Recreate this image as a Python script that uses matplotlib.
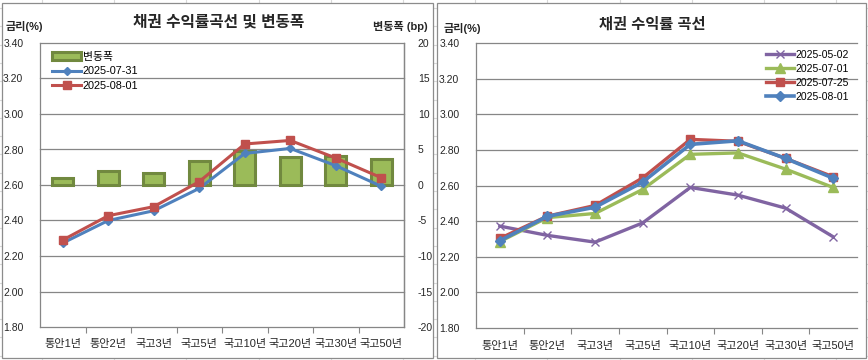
import matplotlib
matplotlib.use("Agg")
import matplotlib.pyplot as plt
from matplotlib.patches import Rectangle, Patch
from matplotlib.lines import Line2D
import numpy as np

plt.rcParams['font.family'] = ['Liberation Sans', 'Noto Sans CJK KR', 'DejaVu Sans']

# ---------------- data ----------------
categories = ['통안1년', '통안2년', '국고3년', '국고5년', '국고10년', '국고20년', '국고30년', '국고50년']

left_title = '채권 수익률곡선 및 변동폭'
right_title = '채권 수익률 곡선'

left_0731 = [2.273, 2.400, 2.455, 2.581, 2.778, 2.806, 2.709, 2.593]
left_0801 = [2.290, 2.427, 2.478, 2.619, 2.831, 2.851, 2.752, 2.641]
change_bp = [1.0, 2.0, 1.7, 3.4, 4.8, 3.9, 4.1, 3.7]

right_0502 = [2.372, 2.320, 2.282, 2.390, 2.589, 2.546, 2.473, 2.312]
right_0701 = [2.285, 2.420, 2.443, 2.578, 2.775, 2.783, 2.692, 2.589]
right_0725 = [2.303, 2.428, 2.488, 2.643, 2.859, 2.848, 2.752, 2.649]
right_0801 = [2.290, 2.427, 2.478, 2.619, 2.831, 2.851, 2.752, 2.641]

rate_ticks = [1.80, 2.00, 2.20, 2.40, 2.60, 2.80, 3.00, 3.20, 3.40]
bp_ticks = [-20, -15, -10, -5, 0, 5, 10, 15, 20]

# ---------------- styles ----------------
W, H = 868, 360
BLUE = '#4F81BD'
RED = '#C0504D'
GREEN = '#9BBB59'
GREEN_EDGE = '#71893F'
PURPLE = '#8064A2'
GRID = '#868686'
TXT = '#262626'

fig = plt.figure(figsize=(W / 100, H / 100), dpi=100)

# spreadsheet background grid
bg = fig.add_axes([0, 0, 1, 1], zorder=-10)
bg.set_xlim(0, W)
bg.set_ylim(H, 0)
bg.axis('off')
for xv in np.arange(42, W, 72.2):
    bg.axvline(xv, color='#d9d9d9', lw=0.8)
for yv in np.arange(8, H, 18.3):
    bg.axhline(yv, color='#d9d9d9', lw=0.8)
# chart boxes
for (x0, x1) in [(1.5, 432.5), (436.5, 866)]:
    bg.add_patch(Rectangle((x0, 2.5), x1 - x0, 355.5, facecolor='white',
                           edgecolor='#8c8c8c', lw=0.9, zorder=2))


def fx(px):
    return px / W


def fy(py):
    return 1 - py / H


x = np.arange(len(categories))


def style_axis(ax, right_spine):
    ax.set_xlim(-0.5, len(categories) - 0.5)
    ax.set_ylim(1.8, 3.4)
    ax.set_yticks(rate_ticks)
    ax.set_yticklabels([f'{v:.2f}' for v in rate_ticks])
    ax.set_xticks(x)
    ax.set_xticklabels(categories)
    ax.set_xticks(np.arange(0.5, len(categories) - 0.5, 1.0), minor=True)
    ax.tick_params(axis='x', which='major', length=0, pad=9, labelsize=8, colors=TXT)
    ax.tick_params(axis='x', which='minor', length=4, width=0.8, color=GRID, direction='out')
    ax.tick_params(axis='y', length=0, pad=12, labelsize=7.5, colors=TXT)
    for s in ['top', 'right']:
        ax.spines[s].set_visible(False)
    for s in ['left', 'bottom']:
        ax.spines[s].set_color(GRID)
        ax.spines[s].set_linewidth(0.9)
    if right_spine:
        ax.spines['right'].set_visible(True)
        ax.spines['right'].set_color(GRID)
        ax.spines['right'].set_linewidth(0.9)
    ax.patch.set_visible(False)


# ---------------- left chart ----------------
axL = fig.add_axes([fx(40), fy(327), fx(404) - fx(40), fy(43) - fy(327)], zorder=5)
axB = axL.twinx()
axB.set_zorder(4)
style_axis(axL, True)
axB.set_ylim(-20, 20)
axB.set_yticks(bp_ticks)
axB.set_yticklabels([str(v) for v in bp_ticks])
axB.tick_params(axis='y', length=0, pad=10, labelsize=7.5, colors=TXT)
for s in ['top', 'left', 'bottom']:
    axB.spines[s].set_visible(False)
axB.spines['right'].set_color(GRID)
axB.spines['right'].set_linewidth(0.9)
for v in bp_ticks[1:]:
    axB.axhline(v, color=GRID, lw=0.9, zorder=0, clip_on=False)
axB.bar(x, change_bp, width=0.46, color=GREEN, edgecolor=GREEN_EDGE, linewidth=2.2, zorder=2)

axL.plot(x, left_0731, color=BLUE, lw=2.2, marker='D', ms=3.8, zorder=3)
axL.plot(x, left_0801, color=RED, lw=2.2, marker='s', ms=5.5, zorder=4)

hL = [Patch(facecolor=GREEN, edgecolor=GREEN_EDGE, lw=2.2),
      Line2D([], [], color=BLUE, lw=2.2, marker='D', ms=3.8),
      Line2D([], [], color=RED, lw=2.2, marker='s', ms=5.5)]
axL.legend(hL, ['변동폭', '2025-07-31', '2025-08-01'], loc='upper left',
           bbox_to_anchor=(fx(52), fy(52)), bbox_transform=fig.transFigure,
           frameon=False, fontsize=7.8, handlelength=2.7, handleheight=0.7,
           handletextpad=0.15, labelspacing=0.4, borderpad=0, borderaxespad=0)

fig.text(fx(218.5), fy(22), left_title, ha='center', va='center', fontsize=11.3,
         fontweight='bold', color=TXT)
fig.text(fx(6), fy(27), '금리(%)', ha='left', va='center', fontsize=8,
         fontweight='bold', color=TXT)
fig.text(fx(428), fy(27), '변동폭 (bp)', ha='right', va='center', fontsize=8,
         fontweight='bold', color=TXT)

# ---------------- right chart ----------------
axR = fig.add_axes([fx(476), fy(328), fx(857) - fx(476), fy(43) - fy(328)], zorder=5)
style_axis(axR, False)
for v in rate_ticks[1:]:
    axR.axhline(v, color=GRID, lw=0.9, zorder=0, clip_on=False)
axR.plot(x, right_0502, color=PURPLE, lw=2.4, marker='x', ms=6, mew=1.0, zorder=2)
axR.plot(x, right_0701, color=GREEN, lw=2.4, marker='^', ms=6.5, zorder=3)
axR.plot(x, right_0725, color=RED, lw=2.4, marker='s', ms=6, zorder=4)
axR.plot(x, right_0801, color=BLUE, lw=2.6, marker='D', ms=5, zorder=5)

hR = [Line2D([], [], color=PURPLE, lw=2.4, marker='x', ms=6, mew=1.0),
      Line2D([], [], color=GREEN, lw=2.4, marker='^', ms=6.5),
      Line2D([], [], color=RED, lw=2.4, marker='s', ms=6),
      Line2D([], [], color=BLUE, lw=2.6, marker='D', ms=5)]
axR.legend(hR, ['2025-05-02', '2025-07-01', '2025-07-25', '2025-08-01'], loc='upper left',
           bbox_to_anchor=(fx(766), fy(49.5)), bbox_transform=fig.transFigure,
           frameon=False, fontsize=7.5, handlelength=2.7, handletextpad=0.15,
           labelspacing=0.4, borderpad=0, borderaxespad=0)

fig.text(fx(652), fy(25), right_title, ha='center', va='center', fontsize=11,
         fontweight='bold', color=TXT)
fig.text(fx(444), fy(29), '금리(%)', ha='left', va='center', fontsize=8,
         fontweight='bold', color=TXT)

fig.savefig('out.png', dpi=100)
